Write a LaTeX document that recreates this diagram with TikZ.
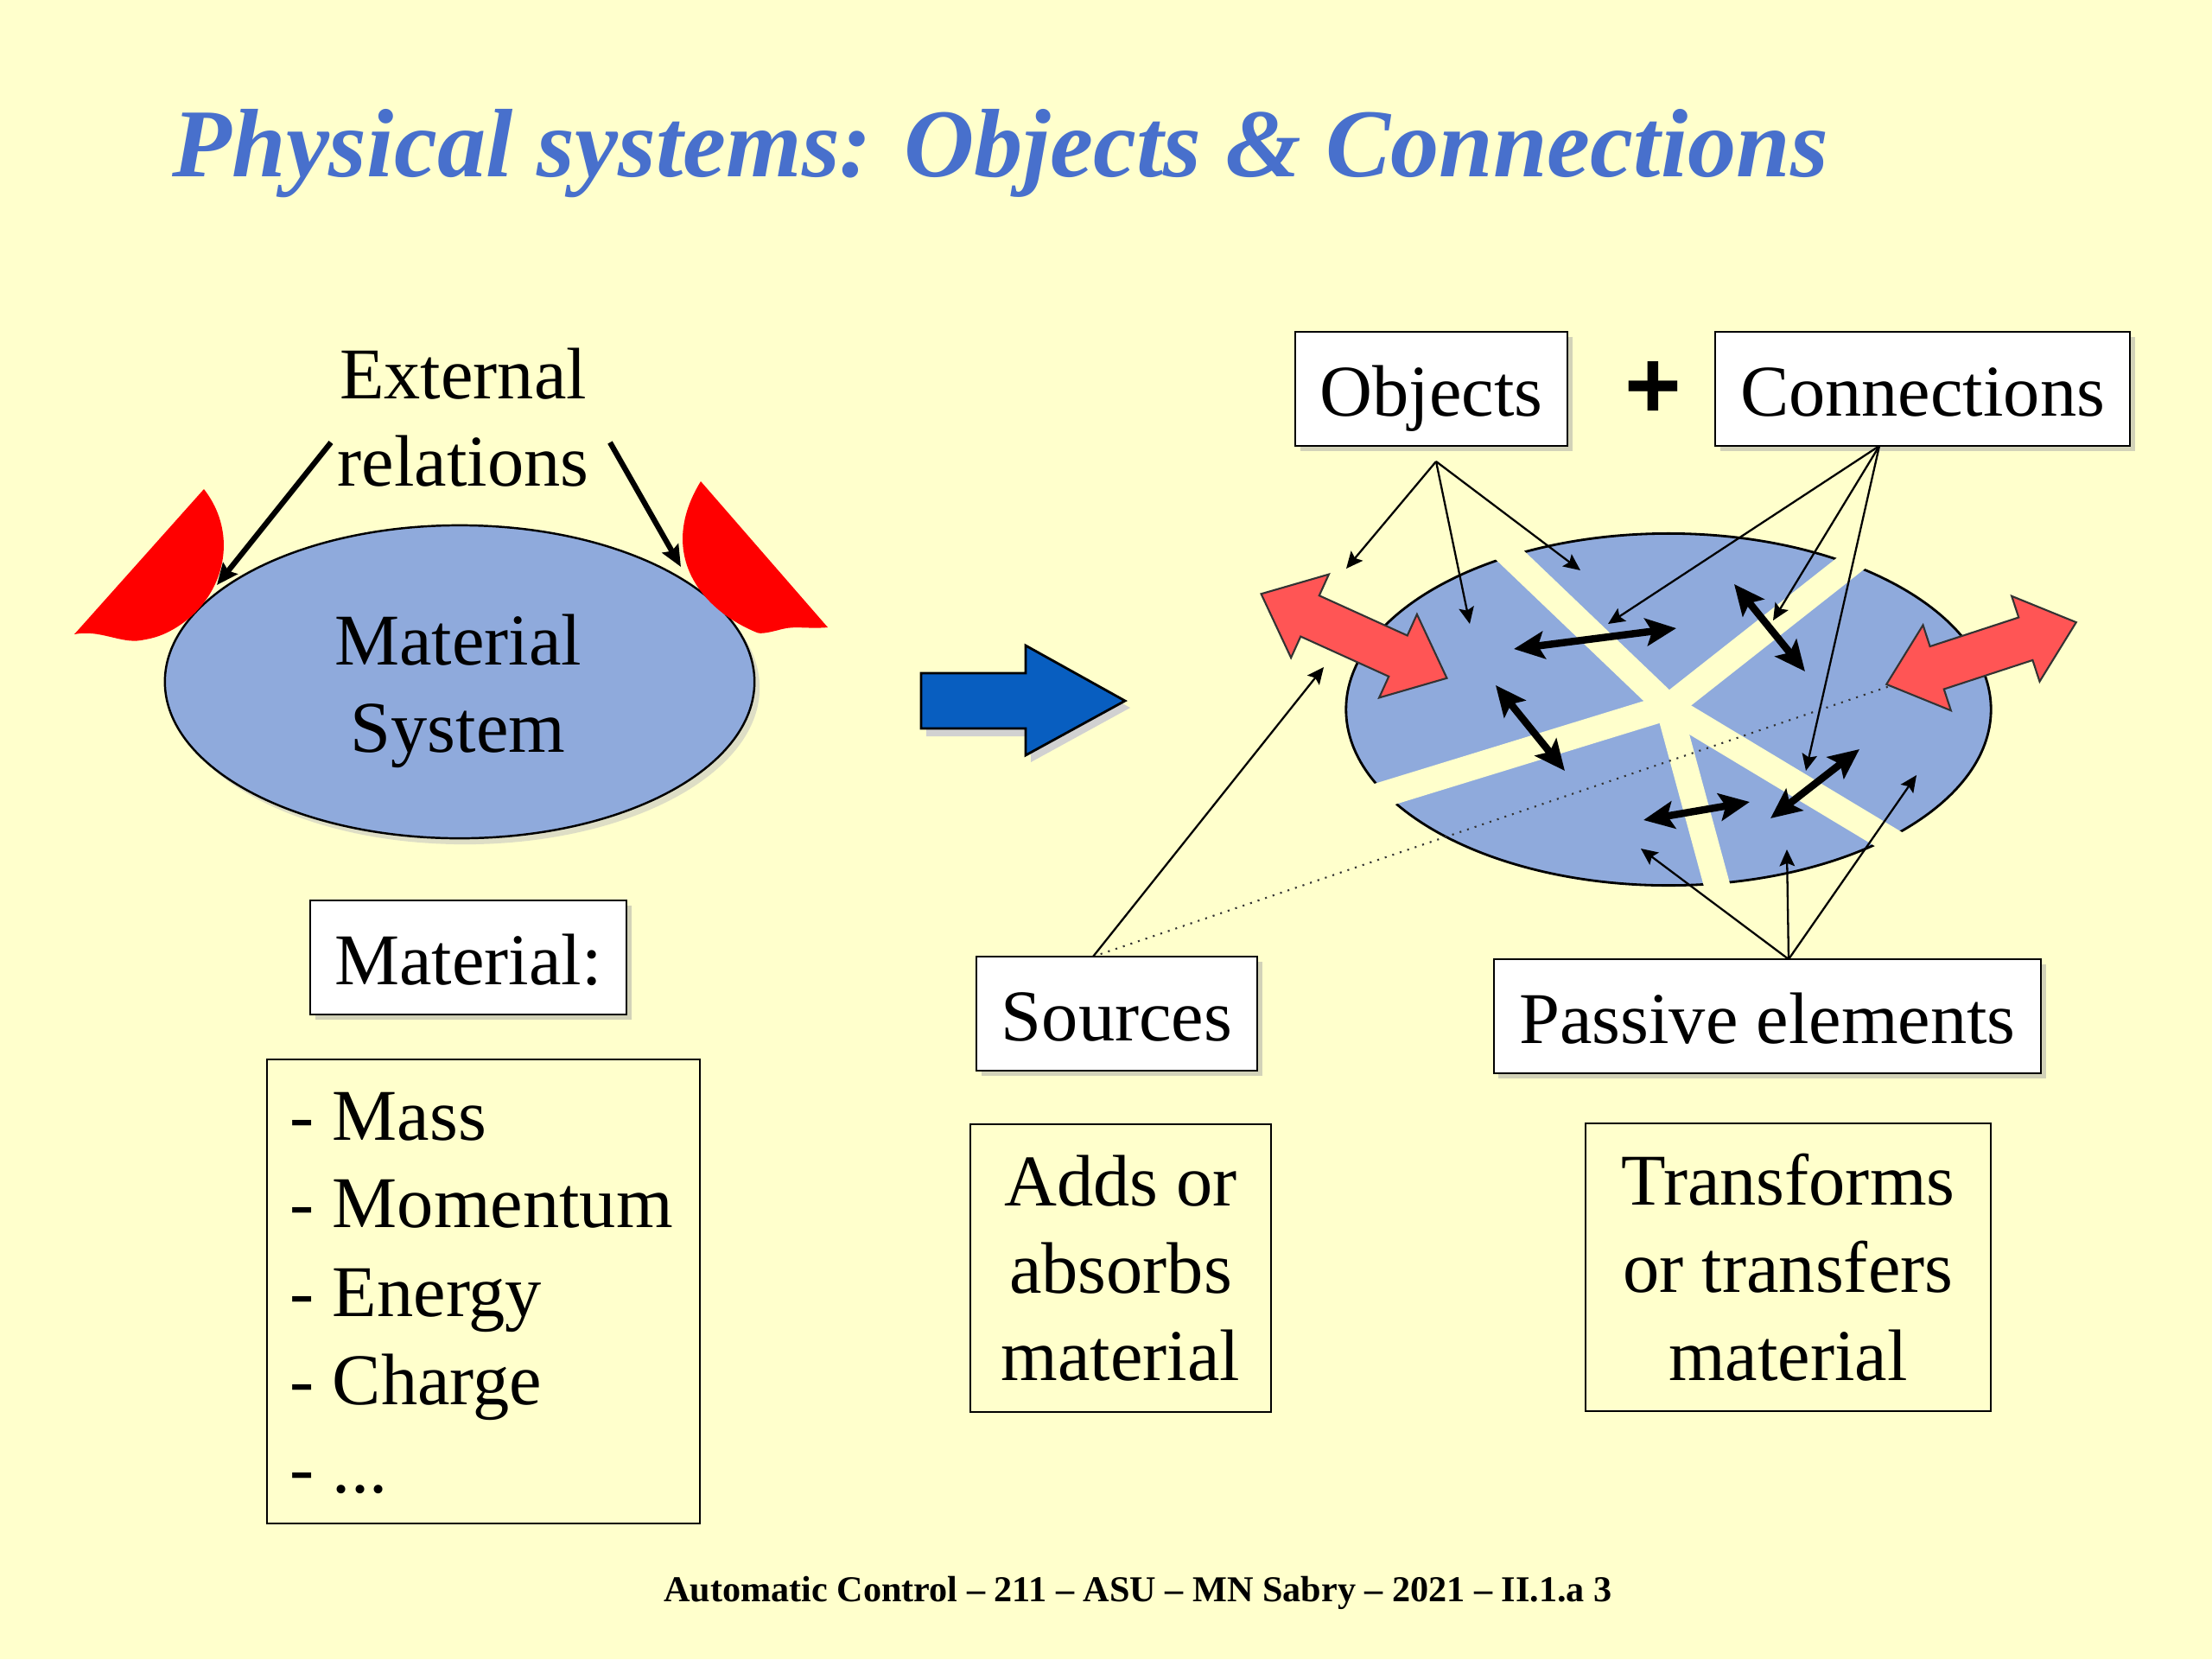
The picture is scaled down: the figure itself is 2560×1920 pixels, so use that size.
\documentclass[tikz,border=0pt]{standalone}
\usepackage{fontspec}
\setmainfont{Liberation Serif}
\newfontfamily\plusfont{Liberation Sans}
\usetikzlibrary{arrows.meta,shadows}
\definecolor{bg}{RGB}{255,255,204}
\definecolor{titleblue}{RGB}{72,112,204}
\definecolor{sysblue}{RGB}{143,170,220}
\definecolor{arrowblue}{RGB}{8,94,192}
\definecolor{softred}{RGB}{255,85,85}
\begin{document}
\begin{tikzpicture}[x=0.01cm,y=-0.01cm,
  body/.style={font=\fontsize{24}{28.8}\selectfont, inner sep=0pt},
  wbox/.style={body, draw=black, line width=0.7pt, fill=white, text height=18pt, text depth=0pt,
     drop shadow={shadow xshift=1.6pt, shadow yshift=-1.6pt, fill=black!35, opacity=0.5}},
  tbox/.style={body, draw=black, line width=0.7pt, align=center},
  listitem/.style={body, anchor=base west},
  conn/.style={line width=0.65pt, -{Stealth[length=5.5pt,width=5pt,inset=1pt]}},
  dbl/.style={line width=2.4pt, {Stealth[length=10pt,width=9pt,inset=2pt]}-{Stealth[length=10pt,width=9pt,inset=2pt]}},
  extarrow/.style={line width=1.8pt, -{Stealth[length=7pt,width=6pt,inset=1pt]}},
  strip/.style={draw=bg, line width=8.5pt, line cap=round},
  redarr/.style={fill=softred, draw=black!80, line width=0.6pt, line join=miter},
]
\fill[bg] (0,0) rectangle (2560,1920);
\useasboundingbox (0,0) rectangle (2560,1920);

% title
\node[anchor=base west, inner sep=0pt, text=titleblue,
  font=\fontsize{32}{38}\selectfont\bfseries\itshape] (title) at (199,204)
  {Physical systems: Objects \& Connections};

% ---------------- left part ----------------
\fill[black!25, opacity=0.5] (538,796) ellipse [x radius=3.41cm, y radius=1.81cm];
\draw[fill=sysblue, line width=0.7pt] (532,789) ellipse [x radius=3.41cm, y radius=1.81cm];
\node[body, align=center] (matsys) at (530,800) {Material\\System};

% red contact shapes
\fill[red] (236,566) -- (86,734) .. controls (115,728) and (140,745) .. (163,741)
   .. controls (175,739) and (182,737) .. (189,734)
   .. controls (255,705) and (282,625) .. cycle;
\fill[red] (811,557) -- (958,726) .. controls (935,728) and (920,724) .. (905,728)
   .. controls (890,732) and (880,734) .. (876,732)
   .. controls (810,705) and (760,640) .. cycle;

\node[body, align=center] (ext) at (536,483) {External\\relations};
\coordinate (ext1s) at (383,512); \coordinate (ext1e) at (251,677);
\coordinate (ext2s) at (706,512); \coordinate (ext2e) at (788,656);
\draw[extarrow] (ext1s) -- (ext1e);
\draw[extarrow] (ext2s) -- (ext2e);

\node[wbox, minimum width=3.66cm, minimum height=1.32cm] (material) at (542,1108) {Material:};
\node[tbox, minimum width=5.01cm, minimum height=5.37cm] (listbox) at (559.5,1494.5) {};
\node[listitem] (l1) at (335,1319) {- Mass};
\node[listitem] (l2) at (335,1420) {- Momentum};
\node[listitem] (l3) at (335,1523) {- Energy};
\node[listitem] (l4) at (335,1625) {- Charge};
\node[listitem] (l5) at (335,1727) {- ...};

% blue arrow
\fill[black!18] (1072,787) -- (1193,787) -- (1193,756) -- (1308,819) -- (1193,882) -- (1193,852) -- (1072,852) -- cycle;
\draw[fill=arrowblue, line width=0.8pt, line join=miter] (1066,779) -- (1187,779) -- (1187,747) -- (1302,811) -- (1187,874) -- (1187,843) -- (1066,843) -- cycle;

% ---------------- right part ----------------
\draw[fill=sysblue, line width=0.8pt] (1931,821) ellipse [x radius=3.73cm, y radius=2.035cm];
\coordinate (cc) at (1931,818);
\coordinate (st1) at (1725,621);
\coordinate (st2) at (2185,618);
\coordinate (st3) at (1560,932);
\coordinate (st4) at (1994,1050);
\coordinate (st5) at (2222,993);
\foreach \e in {st1,st2,st3,st4,st5} \draw[strip] (cc) -- (\e);

% dotted line
\coordinate (srcsrc) at (1265,1107);
\coordinate (dotend) at (2190,793);
\draw[dotted, line width=0.6pt, black!80] (srcsrc) -- (dotend);

% red double arrows
\begin{scope}[shift={(1567,736)}, rotate=-24.4]
\draw[redarr] (-118,0) -- (-56,53) -- (-56,26) -- (56,26) -- (56,53) -- (118,0) -- (56,-53) -- (56,-26) -- (-56,-26) -- (-56,-53) -- cycle;
\end{scope}
\begin{scope}[shift={(2293,756)}, rotate=18.1]
\draw[redarr] (-115.5,0) -- (-54,52) -- (-54,26) -- (54,26) -- (54,52) -- (115.5,0) -- (54,-52) -- (54,-26) -- (-54,-26) -- (-54,-52) -- cycle;
\end{scope}

% thick double arrows
\coordinate (a1) at (1752,751); \coordinate (a2) at (1940,727);
\coordinate (b1) at (2007,676); \coordinate (b2) at (2089,777);
\coordinate (c1) at (1731,793); \coordinate (c2) at (1811,892);
\coordinate (d1) at (1902,949); \coordinate (d2) at (2025,928);
\coordinate (e1) at (2049,947); \coordinate (e2) at (2152,867);
\draw[dbl] (a1) -- (a2);
\draw[dbl] (b1) -- (b2);
\draw[dbl] (c1) -- (c2);
\draw[dbl] (d1) -- (d2);
\draw[dbl] (e1) -- (e2);

% boxes
\node[wbox, minimum width=3.15cm, minimum height=1.32cm] (objects) at (1656.5,450) {Objects};
\node[inner sep=0pt, font=\plusfont\bfseries\fontsize{32}{32}\selectfont] (plus) at (1913,451) {+};
\node[wbox, minimum width=4.80cm, minimum height=1.32cm] (connections) at (2225,450) {Connections};
\node[wbox, minimum width=3.25cm, minimum height=1.32cm] (sources) at (1292.5,1173) {Sources};
\node[wbox, minimum width=6.33cm, minimum height=1.32cm] (passive) at (2045.5,1176) {Passive elements};
\node[tbox, minimum width=3.48cm, minimum height=3.33cm] (adds) at (1297,1467.5) {Adds or\\absorbs\\material};
\node[tbox, minimum width=4.69cm, minimum height=3.33cm] (transforms) at (2069.5,1466.5) {Transforms\\or transfers\\material};

% thin connectors
\coordinate (objsrc) at (1662,534);
\coordinate (o1) at (1558,658); \coordinate (o2) at (1701,722); \coordinate (o3) at (1829,660);
\coordinate (consrc) at (2175,516);
\coordinate (k1) at (1861,722); \coordinate (k2) at (2052,718); \coordinate (k3) at (2090,892);
\coordinate (s1) at (1532,772);
\coordinate (passsrc) at (2070,1110);
\coordinate (p1) at (1899,982); \coordinate (p2) at (2068,983); \coordinate (p3) at (2218,897);
\foreach \t in {o1,o2,o3} \draw[conn] (objsrc) -- (\t);
\foreach \t in {k1,k2,k3} \draw[conn] (consrc) -- (\t);
\draw[conn] (srcsrc) -- (s1);
\foreach \t in {p1,p2,p3} \draw[conn] (passsrc) -- (\t);

% footer
\node[anchor=base, inner sep=0pt, font=\fontsize{12}{14}\selectfont\bfseries] (footer) at (1317,1853)
  {Automatic Control – 211 – ASU – MN Sabry – 2021 – II.1.a 3};
\end{tikzpicture}
\end{document}
